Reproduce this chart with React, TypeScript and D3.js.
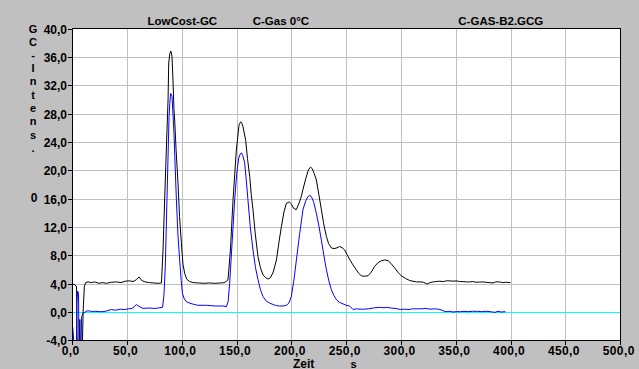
import React from "react";
import * as d3 from "d3";

const W = 639;
const H = 369;

const titles = ["LowCost-GC", "C-Gas 0°C", "C-GAS-B2.GCG"];
const yLetters = ["G", "C", "-", "I", "n", "t", "e", "n", "s", "."];
const xTicks = [0, 50, 100, 150, 200, 250, 300, 350, 400, 450, 500];
const yTicks = [-4, 0, 4, 8, 12, 16, 20, 24, 28, 32, 36, 40];
const xLabel = "Zeit";
const xUnit = "s";

const blackT = [0, 2, 3.5, 4.2, 5.8, 6.5, 7.2, 8.6, 9.6, 10.6, 11.8, 14, 17, 20, 24, 27, 31, 35, 40, 44, 48, 52, 55, 58, 60.5, 63, 66, 70, 74, 78, 81, 82.4, 84.9, 87, 87.6, 88.6, 89.4, 90.1, 90.6, 91.5, 92.4, 93.1, 94.3, 96.1, 97.5, 99.2, 100.6, 102.2, 104, 106.8, 110, 115, 120, 125, 130, 135, 138, 140, 141.7, 143.9, 146.3, 149.3, 151.8, 153.3, 154.3, 155.4, 157.8, 159.5, 161.5, 163, 164.5, 166.5, 169, 171.3, 173.6, 176, 178.2, 180.5, 183, 185.9, 188, 190.4, 192.8, 195, 197.5, 199.5, 201.5, 204, 206.5, 208.5, 210, 212.5, 215, 216.9, 218.5, 220.3, 222.3, 224.5, 226.9, 229, 231.5, 233.5, 236, 238.5, 241, 243.6, 246, 248.2, 250.5, 253, 255.7, 258.8, 261, 263.4, 266, 269.4, 272.5, 275.5, 278.5, 281.7, 284.5, 287.7, 290.5, 293.8, 297, 299.9, 303.5, 307.5, 310.5, 313.6, 317, 320, 323.4, 326, 329, 331.8, 335, 338, 341, 344, 347, 350, 353, 356, 359.2, 362, 365, 368, 371.4, 374, 377, 380, 383.5, 386, 389.6, 392, 395, 399.4];
const blackV = [4.0, 3.9, 3.6, -6, -6, -1.0, -6, -6, 0.5, 3.6, 4.2, 4.3, 4.2, 4.3, 4.1, 4.2, 4.1, 4.25, 4.3, 4.2, 4.4, 4.45, 4.35, 4.6, 5.0, 4.5, 4.3, 4.2, 4.15, 4.1, 4.15, 8.8, 20.6, 30, 35.2, 36.5, 36.9, 36.6, 36.1, 32.8, 28.6, 27, 23, 18.2, 13.5, 9.7, 6.8, 5.5, 4.7, 4.35, 4.2, 4.15, 4.1, 4.15, 4.1, 4.15, 4.2, 4.35, 4.6, 8.8, 15.9, 22.9, 26.5, 26.9, 26.7, 26.2, 24.3, 21.7, 19.2, 16.5, 14.5, 11.2, 7.9, 6.3, 5.3, 4.9, 4.7, 4.9, 5.7, 7.4, 9.7, 12.1, 14.2, 15.4, 15.6, 15.3, 14.7, 14.5, 15.4, 16.3, 17.3, 18.8, 20.1, 20.5, 20.3, 19.6, 18.7, 16.7, 14.5, 12.5, 10.7, 9.7, 9.1, 9.0, 9.1, 9.3, 9.1, 8.8, 8.1, 7.4, 6.7, 6.0, 5.5, 5.16, 5.1, 5.16, 5.7, 6.5, 7.0, 7.3, 7.4, 7.3, 6.9, 6.25, 5.6, 5.16, 4.8, 4.5, 4.4, 4.3, 4.3, 4.25, 4.0, 4.2, 4.3, 4.36, 4.4, 4.35, 4.45, 4.45, 4.4, 4.45, 4.35, 4.35, 4.3, 4.3, 4.35, 4.25, 4.27, 4.3, 4.25, 4.2, 4.15, 4.3, 4.3, 4.2, 4.25, 4.2];

const blueT = [0, 1.2, 2.2, 3.3, 3.8, 4.5, 5.3, 5.8, 7.3, 8.2, 9.4, 11, 13, 15.5, 18, 21, 24.6, 27.7, 31, 35.3, 39, 43.4, 47.5, 51, 54, 56, 58.1, 60, 62.2, 64.2, 67, 71.6, 75, 79.4, 82, 83.3, 84.5, 86, 87.9, 88.6, 89.3, 90, 90.6, 91.5, 92.4, 93.5, 94.6, 96, 97.6, 99, 100.1, 101.8, 103.7, 106.8, 110, 114, 118, 122, 126, 130, 134, 137.2, 140.2, 141.8, 143.2, 145.5, 147.8, 149.6, 151.5, 153, 153.9, 155.3, 156.9, 158.3, 159.9, 162, 164.5, 166.8, 169.1, 171.3, 173.6, 176.5, 179.7, 183, 186, 188.9, 192, 195, 197.2, 199.5, 201.7, 204.1, 207, 210.1, 212.5, 214.7, 216.3, 217.8, 220, 222.3, 224.5, 226.9, 229.2, 231.5, 233.8, 236, 238.3, 240.6, 243.5, 246.6, 249.5, 252.7, 255.7, 258.8, 262.8, 266, 270, 275.5, 280, 284, 287, 291, 295, 299, 303, 306.9, 310, 314, 318, 322.6, 326, 330, 333, 335, 337, 339, 341.3, 344, 347, 350, 353.9, 357, 361, 365, 369.6, 373, 377, 381, 385.3, 388, 391, 394.8];
const blueV = [-2.0, -4.5, -6, -6, 1.2, 3.0, 2.7, -6, -6, -0.6, -0.1, 0.0, 0.2, 0.2, 0.1, 0.15, 0.1, 0.1, 0.2, 0.4, 0.3, 0.45, 0.4, 0.5, 0.55, 0.8, 1.1, 0.9, 0.7, 0.55, 0.6, 0.6, 0.55, 0.65, 0.7, 2.5, 6.5, 15.9, 27.6, 29.5, 30.9, 30.8, 30.5, 28, 25.3, 20.5, 15.9, 11, 7.4, 4.5, 2.7, 1.9, 1.5, 1.3, 1.15, 1.0, 1.0, 1.0, 0.95, 0.9, 0.9, 0.9, 0.8, 1.5, 4.1, 10, 15.9, 19.5, 21.8, 22.4, 22.5, 22.1, 21.1, 18.8, 15.9, 12.1, 8.8, 6.3, 4.6, 3.2, 2.25, 1.6, 1.3, 1.1, 0.95, 0.9, 0.9, 1.0, 1.3, 2.25, 4.4, 7.4, 11, 14.5, 15.7, 16.35, 16.5, 16.35, 15.5, 14.0, 12.3, 10.2, 8.0, 6.0, 4.4, 3.2, 2.4, 1.8, 1.4, 1.2, 1.0, 0.9, 0.4, 0.5, 0.45, 0.45, 0.5, 0.65, 0.7, 0.65, 0.7, 0.6, 0.55, 0.4, 0.45, 0.4, 0.5, 0.5, 0.5, 0.55, 0.45, 0.5, 0.45, 0.4, 0.3, 0.15, 0.1, 0.15, 0.05, 0.1, 0.1, 0.15, 0.1, 0.15, 0.15, 0.1, 0.15, 0.1, 0.0, 0.15, 0.05, 0.1];

const baselineV = [0, 0];
const baselineT = [0, 500];

const FONT = "'Liberation Sans', Arial, sans-serif";

export default function App() {
  const left = 72.5, right = 620.5, top = 28.5, bottom = 340.5;
  const x = d3.scaleLinear().domain([0, 500]).range([72.7, 620.7]);
  const y = d3.scaleLinear().domain([-4, 40]).range([340.7, 29]);
  const px = (v: number) => Math.floor(x(v)) + 0.5;
  const py = (v: number) => Math.floor(y(v)) + 0.5;

  const line = d3
    .line<[number, number]>()
    .x((d) => x(d[0]))
    .y((d) => y(d[1]));

  const black = blackT.map((t, i) => [t, blackV[i]] as [number, number]);
  const blue = blueT.map((t, i) => [t, blueV[i]] as [number, number]);
  const base = baselineT.map((t, i) => [t, baselineV[i]] as [number, number]);

  const letterY = [28.5, 42, 55, 67.5, 81, 94.5, 108, 121, 134.5, 148];

  return (
    <svg
      width={W}
      height={H}
      style={{ position: "absolute", left: 0, top: 0, display: "block" }}
    >
      <defs>
        <clipPath id="plotclip">
          <rect x={left} y={top} width={right - left} height={bottom - top} />
        </clipPath>
      </defs>
      <rect x={0} y={0} width={W} height={H} fill="#c0c0c0" />
      <rect x={left} y={top} width={right - left} height={bottom - top} fill="#ffffff" />
      {/* grid */}
      <g stroke="#c0c0c0" strokeWidth={1} shapeRendering="crispEdges">
        {xTicks.slice(1, -1).map((t) => (
          <line key={"gx" + t} x1={px(t)} x2={px(t)} y1={top} y2={bottom} />
        ))}
        {yTicks.slice(1, -1).map((v) => (
          <line key={"gy" + v} x1={left} x2={right} y1={py(v)} y2={py(v)} />
        ))}
      </g>
      <g clipPath="url(#plotclip)" fill="none" strokeWidth={1}>
        <path d={line(base) || ""} stroke="#00ffff" shapeRendering="crispEdges" transform="translate(0,0.2)" />
        <path d={line(black) || ""} stroke="#000000" />
        <path d={line(blue) || ""} stroke="#0000ff" />
      </g>
      {/* frame */}
      <rect
        x={left}
        y={top}
        width={right - left}
        height={bottom - top}
        fill="none"
        stroke="#000"
        strokeWidth={1}
        shapeRendering="crispEdges"
      />
      {/* ticks */}
      <g stroke="#000" shapeRendering="crispEdges">
        {yTicks.map((v) => (
          <line key={"ty" + v} x1={68} x2={left} y1={py(v)} y2={py(v)} />
        ))}
        {xTicks.map((t) => (
          <line key={"tx" + t} x1={px(t)} x2={px(t)} y1={bottom} y2={bottom + 4} />
        ))}
      </g>
      <g fontFamily={FONT} fontWeight="bold" fontSize={12} fill="#000">
        {yTicks.map((v) => (
          <text key={"ly" + v} x={67} y={y(v) + 4.5} textAnchor="end">
            {v.toFixed(1).replace(".", ",")}
          </text>
        ))}
        {xTicks.map((t) => (
          <text key={"lx" + t} x={x(t) - 2} y={355} textAnchor="middle" letterSpacing={0.4}>
            {t.toFixed(1).replace(".", ",")}
          </text>
        ))}
      </g>
      <g fontFamily={FONT} fontWeight="bold" fontSize={11} fill="#000">
        <text x={293} y={367.5} fontSize={12}>{xLabel}</text>
        <text x={353.5} y={367.5} textAnchor="middle">{xUnit}</text>
        {yLetters.map((c, i) => (
          <text key={"yl" + i} x={33} y={letterY[i] + 4} textAnchor="middle">
            {c}
          </text>
        ))}
        <text x={34} y={197.5 + 4.5} textAnchor="middle" fontSize={12}>0</text>
      </g>
      <g fontFamily={FONT} fontWeight="bold" fontSize={11.5} fill="#000">
        <text x={147.5} y={25}>{titles[0]}</text>
        <text x={252.7} y={25}>{titles[1]}</text>
        <text x={458.3} y={25}>{titles[2]}</text>
      </g>
    </svg>
  );
}
